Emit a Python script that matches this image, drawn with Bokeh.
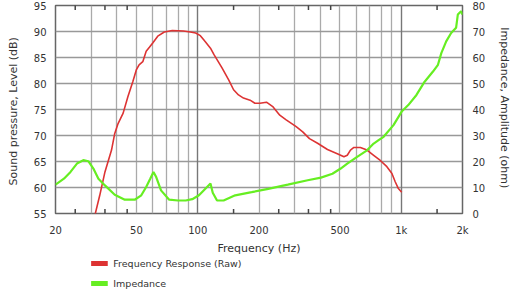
import math
from bokeh.plotting import figure
from bokeh.models import Range1d, LinearAxis, FixedTicker, Grid
from bokeh.layouts import column
from bokeh.embed import file_html
from bokeh.resources import INLINE
from bokeh.core.properties import value

# ---------------- data ----------------
fr_freq = [30.5, 33, 35, 37.7, 39.1, 40.6, 43, 45.4, 48, 49.9, 51.5, 53.7, 55.8, 58, 60.1,
           63.6, 68.5, 75, 85, 92, 97.7, 103, 108, 115.5, 120, 124.4, 131.6, 136, 141.9,
           150, 158.6, 167.8, 180.8, 191, 202, 217.6, 234.6, 253, 272, 304.6, 328, 354,
           388, 434, 485, 523, 543, 563, 585, 630, 679, 732, 789, 850, 900, 934, 968, 1005]
fr_db = [53, 58.5, 63, 67.2, 70.4, 72.3, 74.3, 77.5, 80.4, 82.6, 83.6, 84.2, 86.2, 87.0, 87.8,
         89.1, 89.9, 90.2, 90.1, 89.9, 89.7, 89.2, 88.2, 86.8, 85.6, 84.6, 83.0, 82.0, 80.7,
         78.8, 77.8, 77.2, 76.8, 76.2, 76.2, 76.4, 75.5, 73.9, 73.0, 71.7, 70.7, 69.4,
         68.5, 67.3, 66.5, 65.9, 66.2, 67.2, 67.7, 67.7, 67.2, 66.2, 65.2, 64.0, 62.7, 61.1, 59.8, 59.1]

imp_freq = [20, 22, 23.7, 25.5, 27.4, 29, 30.7, 32.5, 35, 39.1, 43.8, 49, 52.8, 55.8, 58.5,
            60.6, 62.5, 66, 72.4, 80, 87.3, 94, 101.4, 109, 115.5, 118.5, 124.4, 134, 152.8,
            184, 222, 277, 347, 403, 459, 504, 543, 607, 679, 732, 774, 819, 916, 1005, 1083,
            1188, 1303, 1432, 1515, 1574, 1663, 1759, 1860, 1897, 1968, 2000]
imp_ohm = [11.1, 13.4, 16.0, 19.2, 20.5, 20.1, 17.3, 13.4, 10.8, 7.2, 5.3, 5.3, 7.0, 10.2, 13.5,
           16.0, 14.0, 8.9, 5.3, 5.0, 5.0, 5.5, 7.0, 9.5, 11.5, 8.0, 5.0, 5.0, 7.0,
           8.2, 9.5, 11.1, 12.8, 13.8, 15.3, 17.3, 19.2, 21.8, 24.3, 26.9, 28.2, 29.5, 34.0, 39.2, 41.7,
           45.6, 50.7, 54.6, 57.2, 61.7, 66.2, 69.4, 71.4, 76.5, 77.8, 76.5]

x_ticks = [20, 50, 100, 200, 500, 1000, 2000]
x_tick_labels = ["20", "50", "100", "200", "500", "1k", "2k"]
x_minor_ticks = [25, 35, 45, 150, 250, 350, 450, 1500]
x_grid_minor = [30, 40, 50, 60, 70, 80, 90, 200, 300, 400, 500, 600, 700, 800, 900]
x_grid_decade = [100, 1000]
spl_ticks = [55, 60, 65, 70, 75, 80, 85, 90, 95]
spl_grid = [60, 65, 70, 75, 80, 85, 90]
imp_ticks = [0, 10, 20, 30, 40, 50, 60, 70, 80]
legend_labels = ["Frequency Response (Raw)", "Impedance"]

# ---------------- style ----------------
RED = "#dd3333"
GREEN = "#66ee22"
FONT = "DejaVu Sans"
TXT = "#333333"

xr = Range1d(20, 2000)
yr = Range1d(55, 95)
p = figure(width=514, height=258, x_axis_type="log", x_range=xr, y_range=yr,
           output_backend="svg", toolbar_location=None,
           min_border_left=55, min_border_right=47, min_border_top=5, min_border_bottom=45)
p.extra_y_ranges = {"imp": Range1d(0, 80)}

p.outline_line_color = "#666666"
p.outline_line_width = 1.5
p.background_fill_color = "white"
p.border_fill_color = "white"

# grids
p.xgrid.ticker = FixedTicker(ticks=x_grid_minor)
p.xgrid.grid_line_color = "#aaaaaa"
p.xgrid.grid_line_width = 1.3
p.add_layout(Grid(dimension=0, ticker=FixedTicker(ticks=x_grid_decade),
                  grid_line_color="#777777", grid_line_width=1.4))
p.ygrid.ticker = FixedTicker(ticks=spl_grid)
p.ygrid.grid_line_color = "#999999"
p.ygrid.grid_line_width = 1.3

# bottom axis
xa = p.xaxis[0]
xa.ticker = FixedTicker(ticks=x_ticks)
xa.major_label_overrides = {t: l for t, l in zip(x_ticks, x_tick_labels)}
xa.axis_label = "Frequency (Hz)"
xa.major_label_standoff = 11
xa.axis_label_standoff = 3

# left axis
ya = p.yaxis[0]
ya.ticker = FixedTicker(ticks=spl_ticks)
ya.axis_label = "Sound pressure, Level  (dB)"
ya.major_label_standoff = 9
ya.axis_label_standoff = 11

# right axis
ra = LinearAxis(y_range_name="imp", ticker=FixedTicker(ticks=imp_ticks),
                axis_label="Impedance, Amplitude  (ohm)")
ra.major_label_standoff = 10
ra.axis_label_standoff = 10
p.add_layout(ra, "right")

for ax in [xa, ya, ra]:
    ax.axis_line_color = None
    ax.major_tick_in = 0
    ax.major_tick_out = 0
    ax.minor_tick_in = 0
    ax.minor_tick_out = 0
    ax.major_label_text_font = FONT
    ax.major_label_text_font_size = "10px"
    ax.major_label_text_color = TXT
    ax.axis_label_text_font = FONT
    ax.axis_label_text_font_size = "11px"
    ax.axis_label_text_font_style = "normal"
    ax.axis_label_text_color = TXT

# small inward ticks at top and bottom edges
for edge in (yr.start, yr.end):
    p.scatter(x_minor_ticks, [edge] * len(x_minor_ticks), marker="dash", size=9,
              angle=math.pi / 2, line_color="#444444", line_width=1.5)

# series
p.line(fr_freq, fr_db, line_color=RED, line_width=1.6)
p.line(imp_freq, imp_ohm, y_range_name="imp", line_color=GREEN, line_width=2.2)

# ---------------- legend ----------------
leg = figure(width=514, height=34, x_range=Range1d(0, 514), y_range=Range1d(34, 0),
             output_backend="svg", toolbar_location=None, min_border=0)
leg.outline_line_color = None
leg.axis.visible = False
leg.grid.visible = False
colors = [RED, GREEN]
ys = [5 + 20 * i for i in range(len(legend_labels))]
leg.quad(left=45, right=66, top=[y - 2.5 for y in ys], bottom=[y + 2.5 for y in ys],
         fill_color=colors, line_color=None)
leg.text(x=73, y=ys, text=legend_labels, text_font=value(FONT), text_font_size="9.5px",
         text_baseline="middle", text_align="left", text_color=TXT)

layout = column(p, leg)
open("out.html", "w").write(file_html(layout, INLINE))
